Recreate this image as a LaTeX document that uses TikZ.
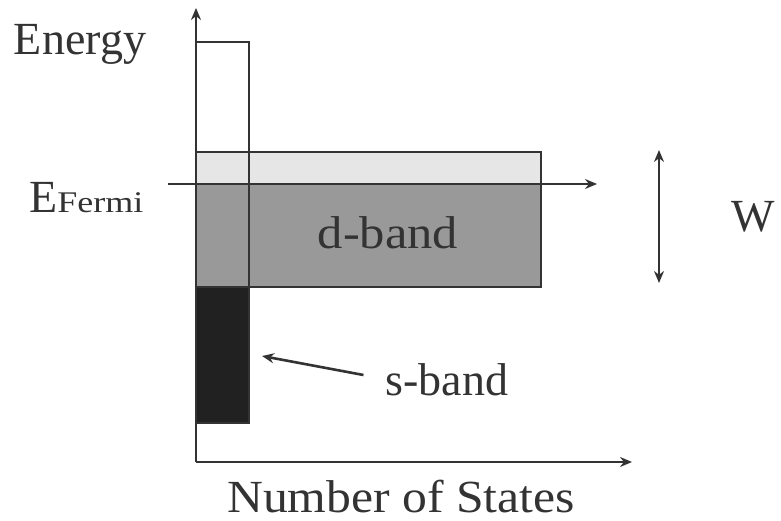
\documentclass[tikz,border=0pt]{standalone}
\usepackage{fontspec}
\setmainfont{Liberation Serif}
\usetikzlibrary{arrows.meta}
\definecolor{ink}{HTML}{333333}
\definecolor{lightband}{HTML}{E6E6E6}
\definecolor{midband}{HTML}{999999}
\definecolor{darkband}{HTML}{212121}
\tikzset{
  tip/.style={-{Stealth[length=12pt,width=10pt]}},
  axisline/.style={draw=ink, line width=2.6pt, tip},
  boxline/.style={draw=ink, line width=2.6pt},
  lbl/.style={text=ink, font=\fontsize{46}{50}\selectfont, inner sep=0pt, anchor=base},
}
\begin{document}
\begin{tikzpicture}[x=1pt,y=-1pt]
\useasboundingbox (0,0) rectangle (781,521);
% coordinates
\coordinate (O) at (196,462);
\coordinate (ytop) at (196,8);
\coordinate (xend) at (632,462);
\coordinate (fL) at (168,184);
\coordinate (fR) at (597,184);
\coordinate (wT) at (659,150);
\coordinate (wB) at (659,283);
% d-band fills
\fill[lightband] (196,152) rectangle (541,184);
\fill[midband] (196,184) rectangle (541,287);
% s-band black block
\fill[darkband] (196,287) rectangle (249,423);
% d-band outline
\draw[boxline] (196,152) rectangle (541,287);
% s-band outline
\draw[boxline] (196,42) rectangle (249,423);
% axes
\draw[axisline] (O) -- (ytop);
\draw[axisline] (O) -- (xend);
\draw[axisline] (fL) -- (fR);
% W arrow
\draw[draw=ink, line width=2.6pt, {Stealth[length=12pt,width=10pt]}-{Stealth[length=12pt,width=10pt]}] (wT) -- (wB);
% labels
\node[lbl] (energy) at (80,55) {Energy};
\node[lbl, anchor=base west] (ef) at (29,213) {E\scalebox{1.2}[1]{\fontsize{30}{32}\selectfont Fermi}};
\node[lbl] (dband) at (388,248) {\scalebox{1.1}[1]{d-band}};
\node[lbl] (sband) at (447,395) {s-band};
\node[lbl] (wlbl) at (753,232) {W};
\node[lbl] (nos) at (401,512) {\scalebox{1.08}[1]{Number of States}};
\coordinate (sarr) at (262,356);
\draw[draw=ink, line width=2.6pt, tip] ([xshift=-22pt,yshift=20pt]sband.base west) -- (sarr);
\end{tikzpicture}
\end{document}
